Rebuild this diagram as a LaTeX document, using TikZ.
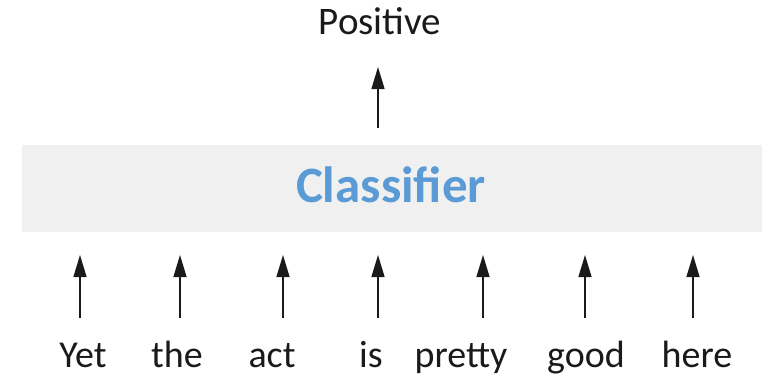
\documentclass[tikz,border=0pt]{standalone}
\usepackage{fontspec}
\setmainfont{Carlito}
\usetikzlibrary{arrows.meta}
\definecolor{boxgray}{HTML}{F0F0F0}
\definecolor{clsblue}{HTML}{5B9BD5}
\definecolor{ink}{HTML}{1A1A1A}
\begin{document}
\begin{tikzpicture}[x=1pt,y=-1pt,
  word/.style={inner sep=0pt,anchor=base,text=ink,font=\fontsize{38}{40}\selectfont},
  uparrow/.style={draw=ink,line width=1.4pt,-{Triangle[length=22pt,width=13pt]}}]
\useasboundingbox (0,0) rectangle (769,378);
% classifier band
\node[fill=boxgray,minimum width=740pt,minimum height=87pt,inner sep=0pt] (cls) at (392,188.5) {};
\node[inner sep=0pt,anchor=base,text=clsblue,font=\fontsize{51}{54}\bfseries\selectfont] (clstext) at (391,202) {Classifier};
% output label and arrow
\node[word,font=\fontsize{39}{42}\selectfont] (pos) at (380,34) {Positive};
\coordinate (ptail) at (378,128);
\coordinate (phead) at (378,67);
\draw[uparrow] (ptail) -- (phead);
% input words
\foreach \n/\w/\wx/\ax in {1/Yet/83/80, 2/the/177/180, 3/act/272/283, 4/is/371/378, 5/pretty/461/483, 6/good/586/585, 7/here/697/693}{
  \node[word] (w\n) at (\wx,367) {\w};
  \coordinate (t\n) at (\ax,318);
  \coordinate (h\n) at (\ax,255);
  \draw[uparrow] (t\n) -- (h\n);
}
\end{tikzpicture}
\end{document}
